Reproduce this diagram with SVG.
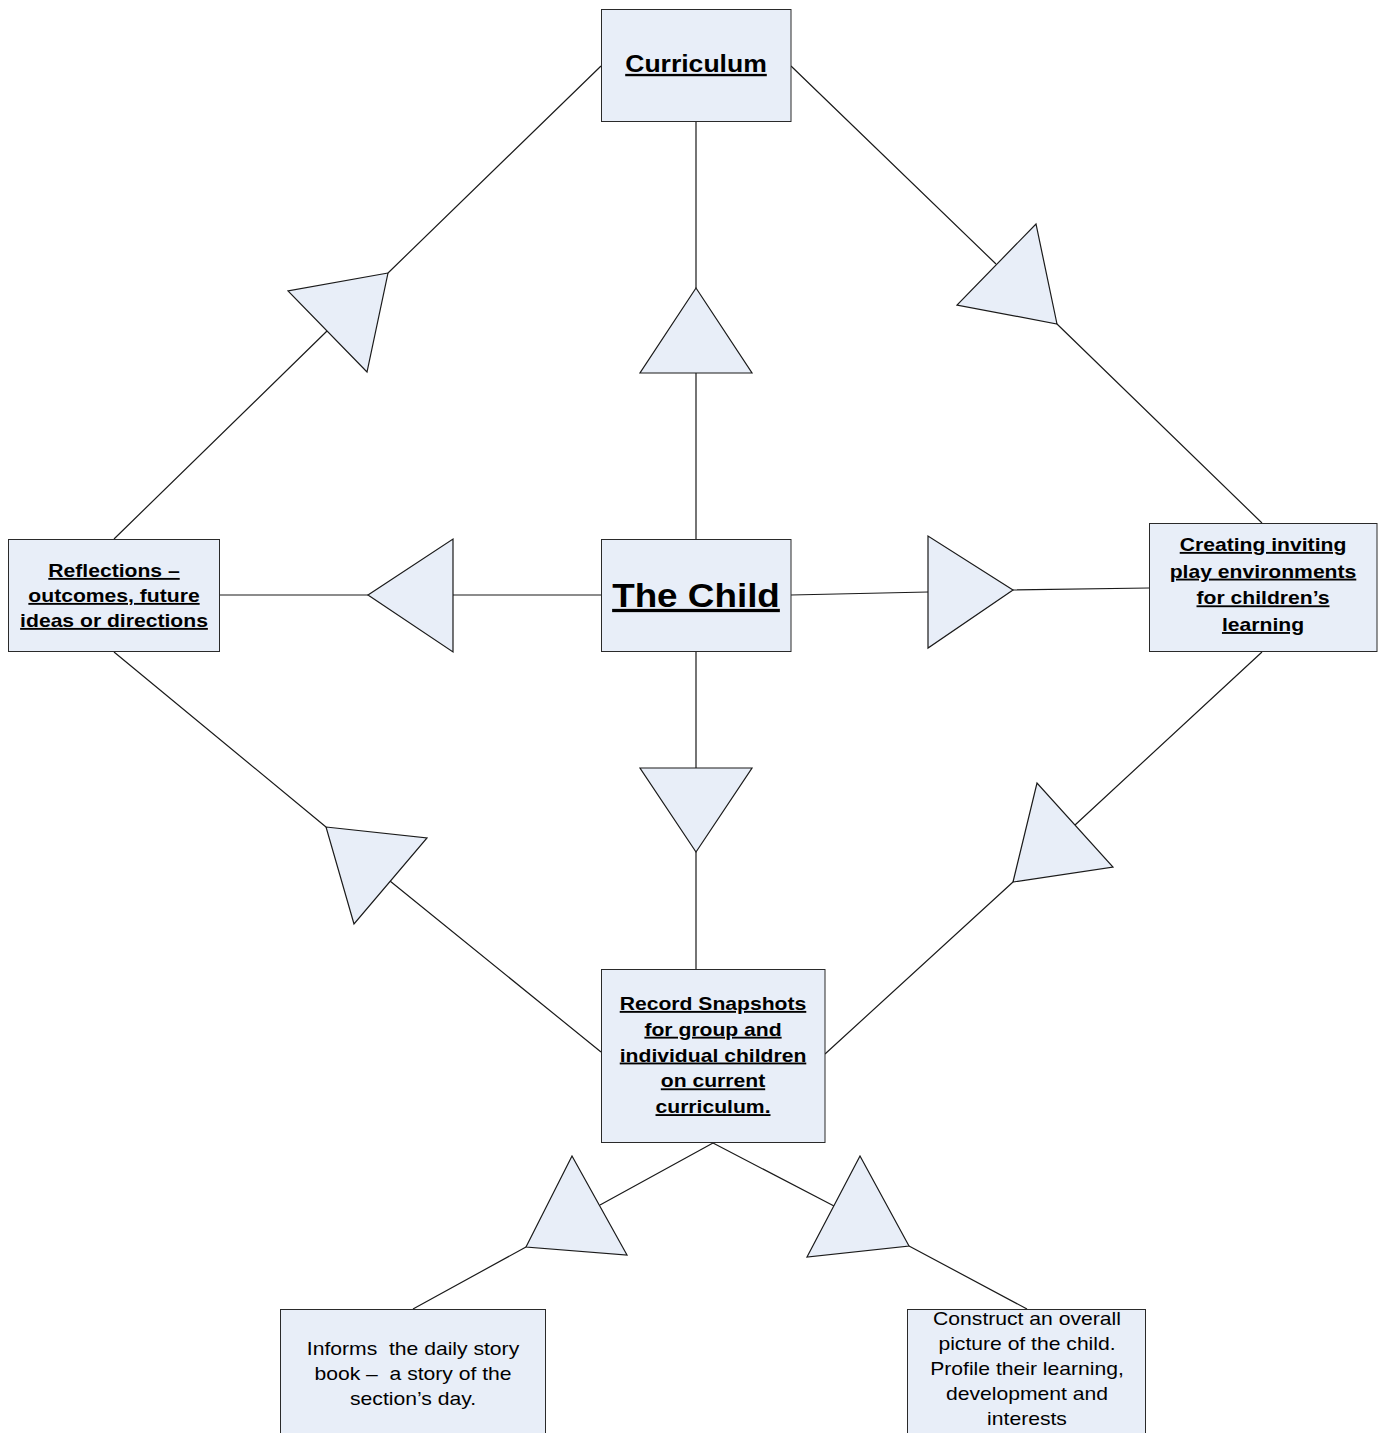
<svg xmlns="http://www.w3.org/2000/svg" width="1383" height="1433" viewBox="0 0 1383 1433">
<style>
  .box { fill: #E8EEF8; stroke: #2a2a2a; stroke-width: 1; }
  .tri { fill: #E8EEF8; stroke: #1a1a1a; stroke-width: 1.2; stroke-linejoin: miter; }
  .ln { stroke: #1a1a1a; stroke-width: 1.2; fill: none; }
  text { font-family: "Liberation Sans", Arial, sans-serif; fill: #000; text-anchor: middle; }
  .h { font-weight: bold; text-decoration: underline; }
  .s { font-size: 18.7px; }
</style>
<rect width="1383" height="1433" fill="#ffffff"/>
<g id="connectors">
  <!-- Curriculum -> Child (vertical) -->
  <path class="ln" d="M696,122 L696,288 M696,373 L696,539"/>
  <polygon class="tri" points="696,288 640,373 752,373"/>
  <!-- Curriculum -> Reflections -->
  <path class="ln" d="M601,66 L388,273 M327,331 L114,539"/>
  <polygon class="tri" points="388,273 288,291 367,372"/>
  <!-- Curriculum -> Creating -->
  <path class="ln" d="M791,66 L996,264 M1057,324 L1262,523"/>
  <polygon class="tri" points="1057,324 1036,224 957,305"/>
  <!-- Child -> Reflections -->
  <path class="ln" d="M601,595 L453,595 M368,595 L220,595"/>
  <polygon class="tri" points="368,595 453,539 453,652"/>
  <!-- Child -> Creating -->
  <path class="ln" d="M791,595 L928,592 M1013,590 L1149,588"/>
  <polygon class="tri" points="1013,590 928,536 928,648"/>
  <!-- Child -> Record -->
  <path class="ln" d="M696,652 L696,768 M696,852 L696,969"/>
  <polygon class="tri" points="696,852 640,768 752,768"/>
  <!-- Record -> Reflections -->
  <path class="ln" d="M114,652 L326,827 M390,881 L601,1052"/>
  <polygon class="tri" points="326,827 427,838 354,924"/>
  <!-- Creating -> Record -->
  <path class="ln" d="M1262,652 L1075,825 M1013,882 L825,1054"/>
  <polygon class="tri" points="1013,882 1037,783 1113,867"/>
  <!-- Record -> Informs -->
  <path class="ln" d="M713,1143 L600,1205 M526,1247 L413,1309"/>
  <polygon class="tri" points="526,1247 572,1156 627,1255"/>
  <!-- Record -> Construct -->
  <path class="ln" d="M713,1143 L834,1206 M909,1246 L1027,1309"/>
  <polygon class="tri" points="909,1246 860,1156 807,1257"/>
</g>
<g id="node-curriculum">
  <rect class="box" x="601.5" y="9.5" width="189.5" height="112"/>
  <text class="h" font-size="23.5" transform="translate(696,72) scale(1.13,1)">Curriculum</text>
</g>
<g id="node-child">
  <rect class="box" x="601.5" y="539.5" width="189.5" height="112"/>
  <text class="h" font-size="32.6" transform="translate(696,607) scale(1.13,1)">The Child</text>
</g>
<g id="node-reflections">
  <rect class="box" x="8.5" y="539.5" width="211" height="112"/>
  <text class="h s" transform="translate(114,577) scale(1.13,1)"><tspan x="0" y="0">Reflections –</tspan><tspan x="0" y="25">outcomes, future</tspan><tspan x="0" y="50">ideas or directions</tspan></text>
</g>
<g id="node-creating">
  <rect class="box" x="1149.5" y="523.5" width="227.5" height="128"/>
  <text class="h s" transform="translate(1263,551) scale(1.13,1)"><tspan x="0" y="0">Creating inviting</tspan><tspan x="0" y="26.7">play environments</tspan><tspan x="0" y="53.4">for children’s</tspan><tspan x="0" y="80.1">learning</tspan></text>
</g>
<g id="node-record">
  <rect class="box" x="601.5" y="969.5" width="223.5" height="173"/>
  <text class="h s" transform="translate(713,1010) scale(1.13,1)"><tspan x="0" y="0">Record Snapshots</tspan><tspan x="0" y="25.8">for group and</tspan><tspan x="0" y="51.6">individual children</tspan><tspan x="0" y="77.4">on current</tspan><tspan x="0" y="103.2">curriculum.</tspan></text>
</g>
<g id="node-informs">
  <rect class="box" x="280.5" y="1309.5" width="265" height="140"/>
  <text class="s" transform="translate(413,1355) scale(1.13,1)"><tspan x="0" y="0">Informs&#160; the daily story</tspan><tspan x="0" y="25">book –&#160; a story of the</tspan><tspan x="0" y="50">section’s day.</tspan></text>
</g>
<g id="node-construct">
  <rect class="box" x="907.5" y="1309.5" width="238" height="140"/>
  <text class="s" transform="translate(1027,1325) scale(1.13,1)"><tspan x="0" y="0">Construct an overall</tspan><tspan x="0" y="25">picture of the child.</tspan><tspan x="0" y="50">Profile their learning,</tspan><tspan x="0" y="75">development and</tspan><tspan x="0" y="100.5">interests</tspan></text>
</g>
</svg>
